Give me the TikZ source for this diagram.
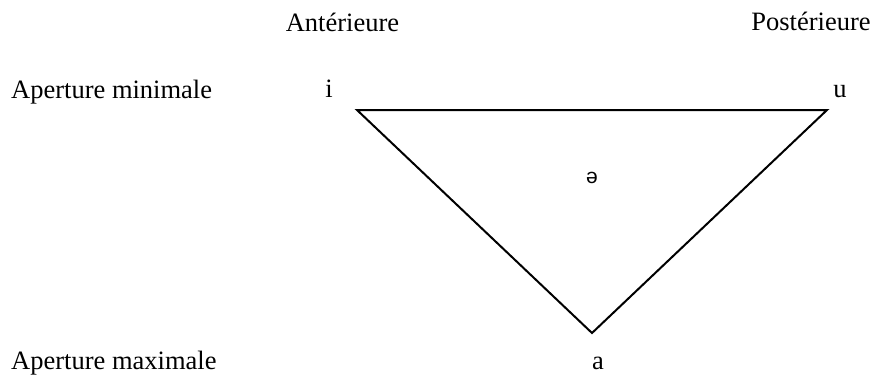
\documentclass[tikz,border=0pt]{standalone}
\usepackage{fontspec}
\setmainfont{Liberation Serif}
\newfontfamily\ipafont{Liberation Sans}
\usetikzlibrary{positioning}

\begin{document}
\begin{tikzpicture}[x=1pt, y=-1pt,
    lbl/.style={inner sep=0pt, font=\fontsize{26.5}{30}\selectfont},
    vowel/.style={inner sep=0pt, anchor=base, font=\fontsize{26.5}{30}\selectfont}]
    \useasboundingbox (0,0) rectangle (873,376);

    % Column and row labels
    \node[lbl, anchor=base] (ant) at (342.5,31) {Antérieure};
    \node[lbl, anchor=base] (post) at (811,30) {Postérieure};
    \node[lbl, anchor=base west] (apmin) at (11,98) {Aperture minimale};
    \node[lbl, anchor=base west] (apmax) at (11,369) {Aperture maximale};

    % Vowels
    \node[vowel] (i) at (329,97) {i};
    \node[vowel] (u) at (840,97) {u};
    \node[vowel, font=\ipafont\fontsize{21}{24}\selectfont] (schwa) at (592,183) {ə};
    \node[vowel] (a) at (598,369) {a};

    % Draw triangle
    \coordinate (front) at (357,110);
    \coordinate (back) at (827,110);
    \coordinate (open) at (592,333);
    \draw[line width=2pt] (front) -- (back) -- (open) -- cycle;
\end{tikzpicture}
\end{document}
